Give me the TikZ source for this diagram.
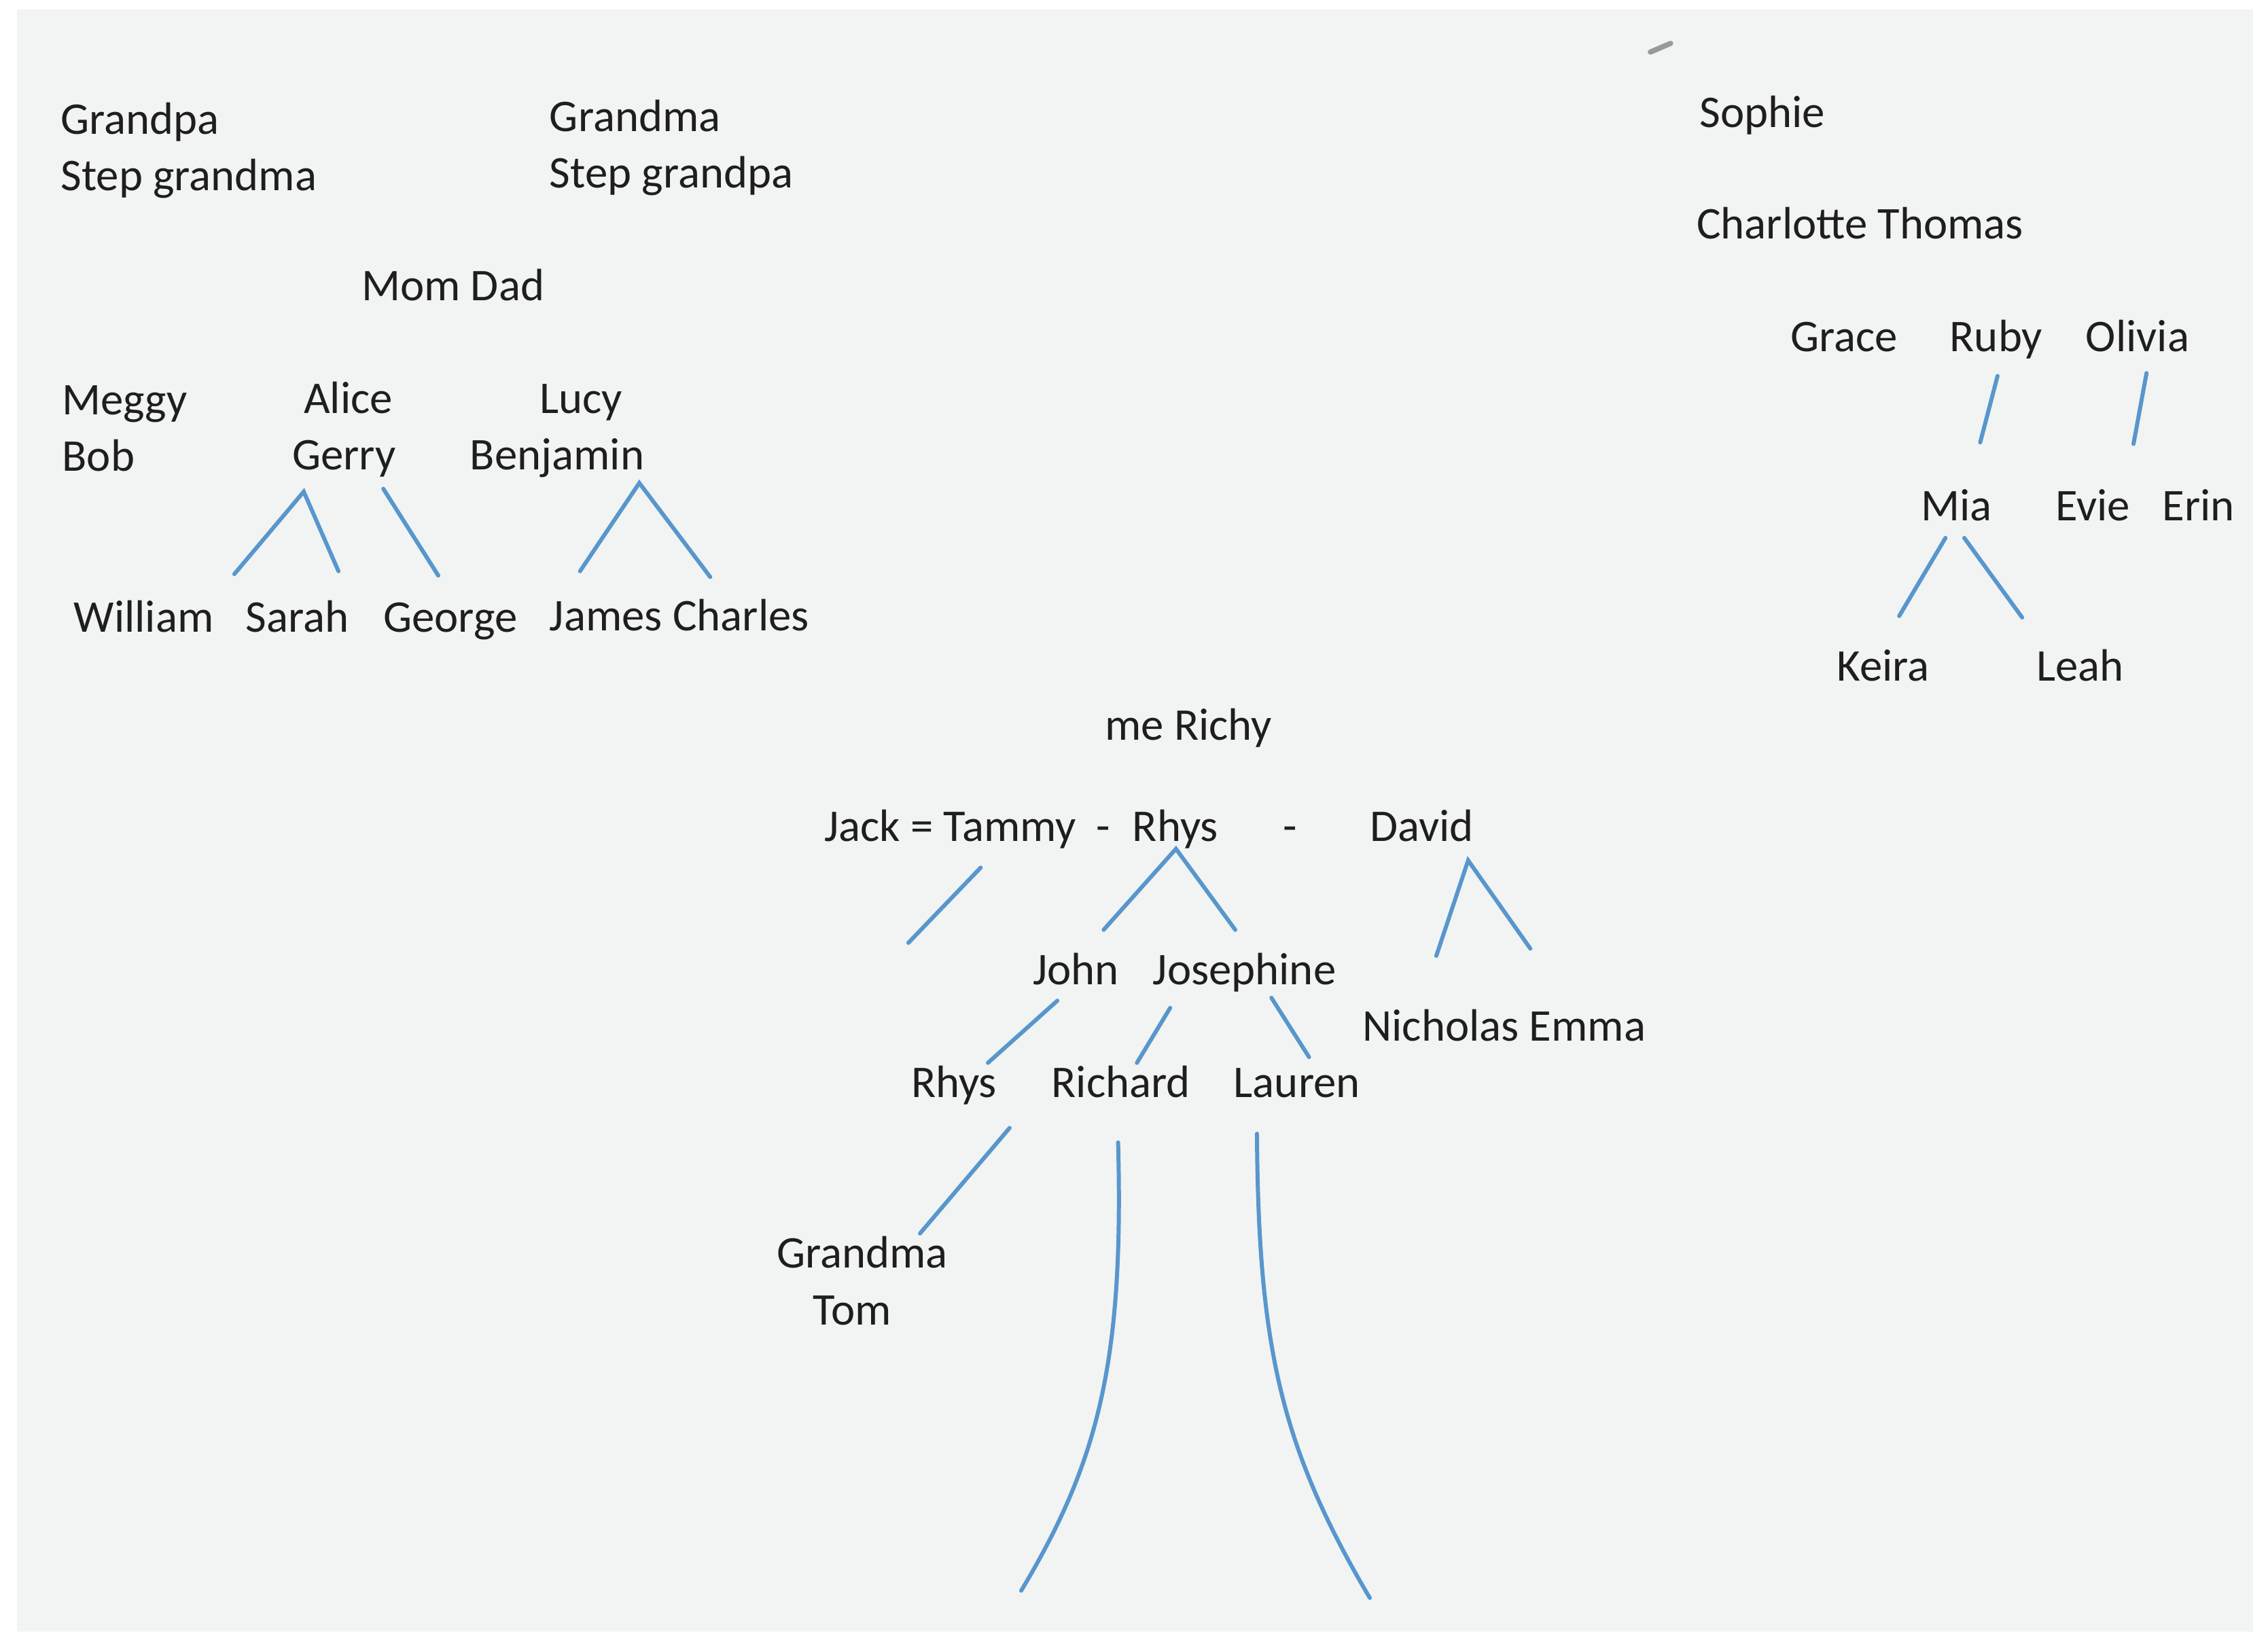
\documentclass[tikz,border=0pt]{standalone}
\usepackage{fontspec}
\setmainfont{Carlito}
\definecolor{paper}{RGB}{241,244,242}
\definecolor{ink}{RGB}{30,30,30}
\definecolor{pen}{RGB}{88,150,205}
\definecolor{smudge}{RGB}{150,155,150}
\begin{document}
\begin{tikzpicture}[x=0.021288cm,y=-0.021288cm,
  lbl/.style={anchor=base west,inner sep=0pt,outer sep=0pt,text=ink,font=\fontsize{19}{23}\selectfont},
  link/.style={draw=pen,line width=1.7pt,line cap=round}]
\fill[white] (0,0) rectangle (1568,1142);
\fill[paper] (11.7,6.6) rectangle (1557.6,1128.3);
\useasboundingbox (0,0) rectangle (1568,1142);
% smudge
\draw[smudge,line width=2.2pt,line cap=round] (1141,36) -- (1155,30);

% ---------- left family ----------
\node[lbl] (grandpa) at (42,93) {Grandpa};
\node[lbl] (stepgma) at (42,132) {Step grandma};
\node[lbl] (grandma) at (380,91) {Grandma};
\node[lbl] (stepgpa) at (380,130) {Step grandpa};
\node[lbl] (momdad) at (250,208) {Mom Dad};
\node[lbl] (meggy) at (43,287) {Meggy};
\node[lbl] (bob) at (43,326) {Bob};
\node[lbl] (alice) at (210,286) {Alice};
\node[lbl] (gerry) at (202,325) {Gerry};
\node[lbl] (lucy) at (373,286) {Lucy};
\node[lbl] (benjamin) at (325,325) {Benjamin};
\node[lbl] (william) at (51,437) {William};
\node[lbl] (sarah) at (170,437) {Sarah};
\node[lbl] (george) at (265,437) {George};
\node[lbl] (jamescharles) at (380,436) {James Charles};

\coordinate (g0) at (210,340);
\coordinate (g1) at (162,397);
\coordinate (g2) at (234,395);
\coordinate (g3) at (265,338);
\coordinate (g4) at (303,398);
\coordinate (b0) at (442,334);
\coordinate (b1) at (401,395);
\coordinate (b2) at (491,399);
\draw[link] (g1) -- (g0) -- (g2);
\draw[link] (g3) -- (g4);
\draw[link] (b1) -- (b0) -- (b2);

% ---------- right family ----------
\node[lbl] (sophie) at (1175,88) {Sophie};
\node[lbl] (charlotte) at (1173,165) {Charlotte Thomas};
\node[lbl] (grace) at (1238,243) {Grace};
\node[lbl] (ruby) at (1348,243) {Ruby};
\node[lbl] (olivia) at (1442,243) {Olivia};
\node[lbl] (mia) at (1328,360) {Mia};
\node[lbl] (evie) at (1421,360) {Evie};
\node[lbl] (erin) at (1495,360) {Erin};
\node[lbl] (keira) at (1270,471) {Keira};
\node[lbl] (leah) at (1408,471) {Leah};

\coordinate (r0) at (1381,260);
\coordinate (r1) at (1369,306);
\coordinate (o0) at (1484,258);
\coordinate (o1) at (1475,307);
\coordinate (m0) at (1345,372);
\coordinate (m1) at (1313,426);
\coordinate (m2) at (1358,372);
\coordinate (m3) at (1398,427);
\draw[link] (r0) -- (r1);
\draw[link] (o0) -- (o1);
\draw[link] (m0) -- (m1);
\draw[link] (m2) -- (m3);

% ---------- middle family ----------
\node[lbl] (me) at (764,512) {me Richy};
\node[lbl] (jack) at (570,582) {Jack = Tammy};
\node[lbl] (dash1) at (758,582) {-};
\node[lbl] (rhys) at (783,582) {Rhys};
\node[lbl] (dash2) at (887,582) {-};
\node[lbl] (david) at (947,582) {David};
\node[lbl] (john) at (714,681) {John};
\node[lbl] (josephine) at (797,681) {Josephine};
\node[lbl] (nicholas) at (942,720) {Nicholas Emma};
\node[lbl] (rhys2) at (630,759) {Rhys};
\node[lbl] (richard) at (727,759) {Richard};
\node[lbl] (lauren) at (853,759) {Lauren};
\node[lbl] (grandma2) at (537,877) {Grandma};
\node[lbl] (tom) at (562,916) {Tom};

\coordinate (j0) at (678,600);
\coordinate (j1) at (628,652);
\coordinate (h0) at (813,587);
\coordinate (h1) at (763,643);
\coordinate (h2) at (854,643);
\coordinate (d0) at (1015,595);
\coordinate (d1) at (993,661);
\coordinate (d2) at (1058,656);
\coordinate (jo0) at (731,692);
\coordinate (jo1) at (683,735);
\coordinate (js0) at (809,697);
\coordinate (js1) at (786,735);
\coordinate (la0) at (879,690);
\coordinate (la1) at (905,731);
\coordinate (rg0) at (698,780);
\coordinate (rg1) at (636,853);
\coordinate (c1a) at (773,790);
\coordinate (c1b) at (706,1100);
\coordinate (c2a) at (869,784);
\coordinate (c2b) at (947,1105);
\draw[link] (j0) -- (j1);
\draw[link] (h1) -- (h0) -- (h2);
\draw[link] (d1) -- (d0) -- (d2);
\draw[link] (jo0) -- (jo1);
\draw[link] (js0) -- (js1);
\draw[link] (la0) -- (la1);
\draw[link] (rg0) -- (rg1);
\draw[link] (c1a) .. controls (777,940) and (760,1010) .. (c1b);
\draw[link] (c2a) .. controls (870,930) and (885,1000) .. (c2b);
\end{tikzpicture}
\end{document}
